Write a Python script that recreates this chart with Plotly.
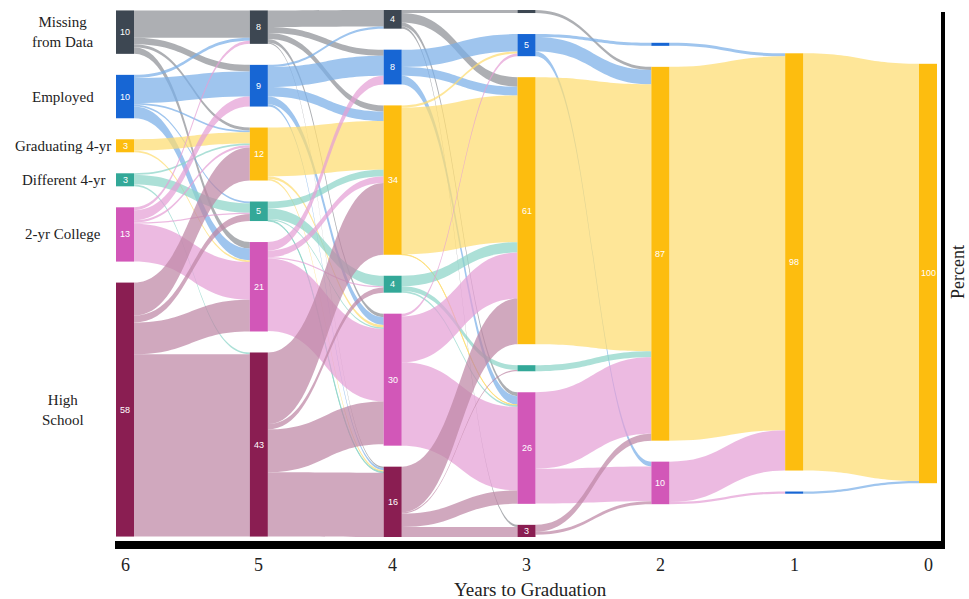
import plotly.graph_objects as go

# ---------------- data ----------------
years = [6, 5, 4, 3, 2, 1, 0]
categories = ["Missing from Data", "Employed", "Graduating 4-yr",
              "Different 4-yr", "2-yr College", "High School"]
cat_display = ["Missing<br>from Data", "Employed", "Graduating 4-yr",
               "Different 4-yr", "2-yr College", "High<br>School"]
M, E, G, D, T, H = range(6)

# categories present in each year column (top to bottom)
column_cats = {
    6: [M, E, G, D, T, H],
    5: [M, E, G, D, T, H],
    4: [M, E, G, D, T, H],
    3: [M, E, G, D, T, H],
    2: [E, G, T],
    1: [G, E],
    0: [G],
}
# numbers printed inside the nodes
node_numbers = {
    6: ["10", "10", "3", "3", "13", "58"],
    5: ["8", "9", "12", "5", "21", "43"],
    4: ["4", "8", "34", "4", "30", "16"],
    3: ["", "5", "61", "", "26", "3"],
    2: ["", "87", "10"],
    1: ["98", ""],
    0: ["100"],
}

# flows (percent) from year y to year y-1: rows = source category, cols = target category
flows_6_5 = [
    [6.3, 1.5, 0.7, 0.0, 1.5, 0.0],
    [0.7, 5.8, 0.4, 0.4, 2.7, 0.0],
    [0.0, 0.0, 2.6, 0.0, 0.4, 0.0],
    [0.0, 0.0, 0.4, 2.2, 0.0, 0.4],
    [0.7, 2.3, 0.5, 0.3, 8.7, 0.0],
    [0.0, 0.0, 7.6, 1.6, 7.3, 42.0],
]
flows_5_4 = [
    [3.8, 1.4, 1.4, 0.0, 0.8, 0.3],
    [0.5, 4.6, 2.2, 0.0, 1.8, 0.5],
    [0.0, 0.0, 11.2, 0.0, 0.6, 0.4],
    [0.0, 0.0, 1.6, 2.4, 0.3, 0.2],
    [0.0, 2.0, 1.5, 0.3, 16.7, 0.0],
    [0.0, 0.0, 16.5, 1.2, 9.9, 14.8],
]
flows_4_3 = [
    [0.7, 0.0, 2.2, 0.0, 0.9, 0.5],
    [0.0, 4.0, 2.0, 0.0, 2.0, 0.0],
    [0.0, 0.5, 33.8, 0.0, 0.1, 0.0],
    [0.0, 0.0, 2.4, 1.1, 0.4, 0.0],
    [0.0, 0.6, 10.6, 0.0, 19.2, 0.0],
    [0.0, 0.0, 10.5, 0.3, 3.1, 2.3],
]
flows_3_2 = [
    [0.0, 0.0, 0.7, 0.0, 0.0, 0.0],
    [0.0, 0.7, 3.3, 0.0, 1.1, 0.0],
    [0.0, 0.0, 61.5, 0.0, 0.0, 0.0],
    [0.0, 0.0, 1.4, 0.0, 0.0, 0.0],
    [0.0, 0.0, 17.6, 0.0, 8.0, 0.0],
    [0.0, 0.0, 1.6, 0.0, 0.7, 0.0],
]
flows_2_1 = [
    [0.0, 0.0, 0.0, 0.0, 0.0, 0.0],
    [0.0, 0.0, 0.7, 0.0, 0.0, 0.0],
    [0.0, 0.0, 86.1, 0.0, 0.0, 0.0],
    [0.0, 0.0, 0.0, 0.0, 0.0, 0.0],
    [0.0, 0.5, 9.3, 0.0, 0.0, 0.0],
    [0.0, 0.0, 0.0, 0.0, 0.0, 0.0],
]
flows_1_0 = [
    [0.0, 0.0, 0.0, 0.0, 0.0, 0.0],
    [0.0, 0.0, 0.5, 0.0, 0.0, 0.0],
    [0.0, 0.0, 96.1, 0.0, 0.0, 0.0],
    [0.0, 0.0, 0.0, 0.0, 0.0, 0.0],
    [0.0, 0.0, 0.0, 0.0, 0.0, 0.0],
    [0.0, 0.0, 0.0, 0.0, 0.0, 0.0],
]
transitions = [(6, flows_6_5), (5, flows_5_4), (4, flows_4_3),
               (3, flows_3_2), (2, flows_2_1), (1, flows_1_0)]

# ---------------- styles ----------------
node_colors = ["#3d4752", "#1766d4", "#fdbd0f", "#33a898", "#d257b8", "#8a1e52"]
link_colors = ["rgba(150,153,158,0.78)", "rgba(122,175,232,0.72)",
               "rgba(253,220,112,0.72)", "rgba(140,212,200,0.72)",
               "rgba(228,160,214,0.72)", "rgba(190,135,165,0.72)"]

W_PX, H_PX = 969, 599
SK_X0, SK_X1 = 116, 937        # sankey domain in px
SK_Y0, SK_Y1 = 10, 537
NODE_W = 18
PAD = 21

def px_x(p):
    return p / W_PX

def px_y(p):
    return 1 - p / H_PX

# ---------------- build nodes / links ----------------
node_index = {}
nodes = []
for y in years:
    for c in column_cats[y]:
        node_index[(y, c)] = len(nodes)
        nodes.append((y, c))

src, tgt, val, lcol = [], [], [], []
inflow = [0.0] * len(nodes)
outflow = [0.0] * len(nodes)
for y, mat in transitions:
    for i in range(6):
        for j in range(6):
            v = mat[i][j]
            if v > 0:
                s = node_index[(y, i)]
                t = node_index[(y - 1, j)]
                src.append(s)
                tgt.append(t)
                val.append(v)
                lcol.append(link_colors[i])
                outflow[s] += v
                inflow[t] += v
node_val = [max(a, b) for a, b in zip(inflow, outflow)]

# vertical layout like d3-sankey: common scale, columns centred
sk_w = SK_X1 - SK_X0
sk_h = SK_Y1 - SK_Y0
ky = min((sk_h - (len(column_cats[y]) - 1) * PAD) /
         sum(node_val[node_index[(y, c)]] for c in column_cats[y]) for y in years)
edge = (NODE_W / 2) / sk_w
col_x = [edge + k * (1 - 2 * edge) / (len(years) - 1) for k in range(len(years))]
node_x = [0.0] * len(nodes)
node_y = [0.0] * len(nodes)
for k, y in enumerate(years):
    cats = column_cats[y]
    vals = [node_val[node_index[(y, c)]] for c in cats]
    total = sum(vals) * ky + (len(cats) - 1) * PAD
    cum = (sk_h - total) / 2
    for c, v in zip(cats, vals):
        h = v * ky
        idx = node_index[(y, c)]
        node_x[idx] = col_x[k]
        node_y[idx] = (cum + h / 2) / sk_h
        cum += h + PAD

fig = go.Figure(go.Sankey(
    domain=dict(x=[px_x(SK_X0), px_x(SK_X1)], y=[px_y(SK_Y1), px_y(SK_Y0)]),
    arrangement="fixed",
    node=dict(
        label=["" for _ in nodes],
        color=[node_colors[c] for (_, c) in nodes],
        x=node_x, y=node_y,
        pad=PAD, thickness=NODE_W,
        line=dict(width=0),
    ),
    link=dict(source=src, target=tgt, value=val, color=lcol),
    hoverinfo="skip",
))

serif = "Liberation Serif, Times New Roman, serif"
annotations = []
# numbers inside nodes
for y in years:
    for c, txt in zip(column_cats[y], node_numbers[y]):
        if not txt:
            continue
        idx = node_index[(y, c)]
        cx = SK_X0 + node_x[idx] * sk_w
        cy = SK_Y0 + node_y[idx] * sk_h
        annotations.append(dict(x=px_x(cx), y=px_y(cy), xref="paper", yref="paper",
                                xanchor="center", yanchor="middle",
                                text=txt, showarrow=False,
                                font=dict(family="Liberation Sans, Arial", size=9, color="white")))
# category names on the left
for c in column_cats[6]:
    idx = node_index[(6, c)]
    cy = SK_Y0 + node_y[idx] * sk_h
    annotations.append(dict(x=px_x(63), y=px_y(cy), xref="paper", yref="paper",
                            text=cat_display[c], showarrow=False,
                            xanchor="center", yanchor="middle",
                            font=dict(family=serif, size=15, color="#222")))
# year tick labels
for k, y in enumerate(years):
    cx = SK_X0 + col_x[k] * sk_w
    annotations.append(dict(x=px_x(cx), y=px_y(565), xref="paper", yref="paper",
                            xanchor="center", yanchor="middle",
                            text=str(y), showarrow=False,
                            font=dict(family=serif, size=18, color="#222")))
annotations.append(dict(x=px_x(530), y=px_y(589), xref="paper", yref="paper",
                        xanchor="center", yanchor="middle",
                        text="Years to Graduation", showarrow=False,
                        font=dict(family=serif, size=19, color="#222")))
annotations.append(dict(x=px_x(958), y=px_y(272), xref="paper", yref="paper",
                        xanchor="center", yanchor="middle",
                        text="Percent", showarrow=False, textangle=-90,
                        font=dict(family=serif, size=18, color="#222")))

shapes = [
    dict(type="rect", xref="paper", yref="paper", x0=px_x(115), x1=px_x(945),
         y0=px_y(549), y1=px_y(541), fillcolor="black", line=dict(width=0)),
    dict(type="rect", xref="paper", yref="paper", x0=px_x(941), x1=px_x(945),
         y0=px_y(549), y1=px_y(12), fillcolor="black", line=dict(width=0)),
]

fig.update_layout(
    width=W_PX, height=H_PX, autosize=False,
    margin=dict(l=0, r=0, t=0, b=0),
    paper_bgcolor="white", plot_bgcolor="white",
    annotations=annotations, shapes=shapes,
    showlegend=False,
)
# remove the browser's default 8px body margin so the figure fills the window exactly
fig.write_html("out.html",
               config={"displayModeBar": False},
               post_script="document.body.style.margin='0px';document.body.style.overflow='hidden';")
